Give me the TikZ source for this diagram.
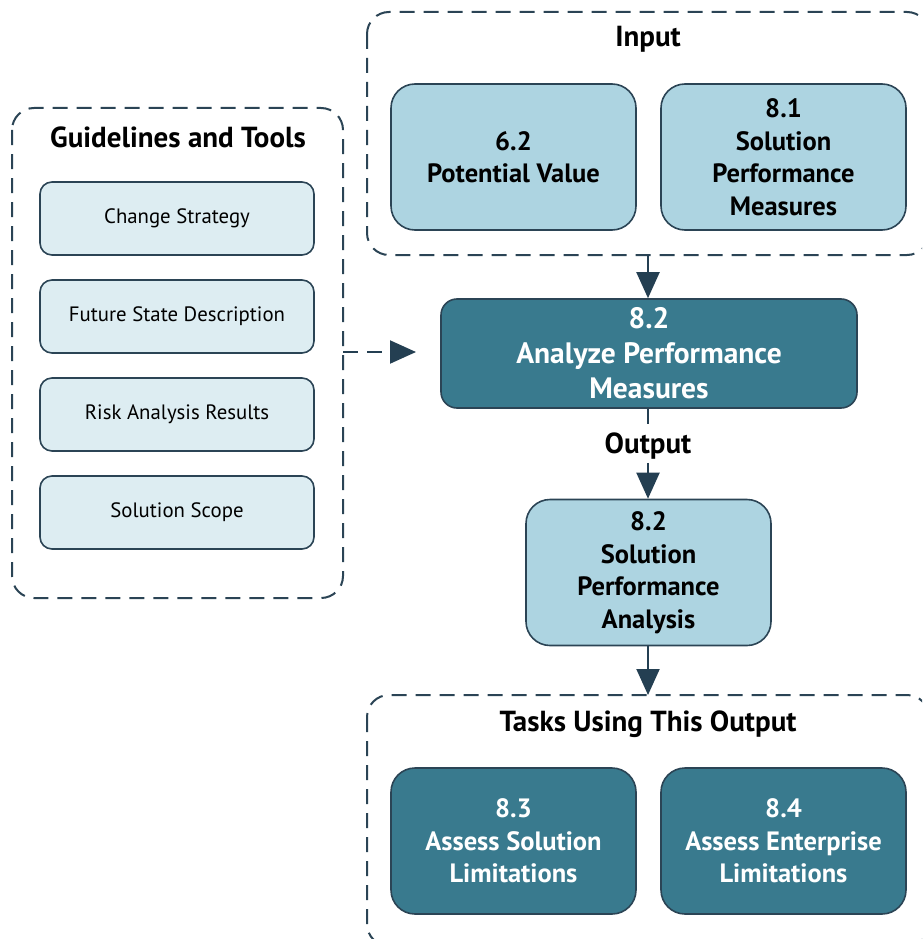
\documentclass[tikz,border=0pt]{standalone}
\usepackage{fontspec}
\setmainfont{PT Sans}
\usetikzlibrary{arrows.meta}
\definecolor{darkteal}{HTML}{397A8E}
\definecolor{lightblue}{HTML}{ADD4E1}
\definecolor{paleblue}{HTML}{DDEDF2}
\definecolor{edge}{HTML}{2B4455}
\definecolor{arrowc}{HTML}{243F52}
\tikzset{
  container/.style={draw=edge, line width=2pt, dash pattern=on 15pt off 9pt, rounded corners=22pt},
  bigbox/.style={draw=edge, line width=1.6pt, rounded corners=24pt, minimum width=245pt, minimum height=146pt, align=center, font=\fontsize{26.5}{32.5}\selectfont\bfseries},
  inbox/.style={bigbox, fill=lightblue, text=black},
  taskbox/.style={bigbox, fill=darkteal, text=white},
  toolbox/.style={draw=edge, line width=1.6pt, rounded corners=12pt, fill=paleblue, minimum width=274pt, minimum height=73pt, font=\fontsize{20.8}{24}\selectfont},
  title/.style={font=\fontsize{29}{32}\selectfont\bfseries},
  flow/.style={draw=arrowc, line width=2pt, -{Triangle[length=26pt,width=23pt]}},
}
\begin{document}
\begin{tikzpicture}[x=1pt,y=-1pt]
\useasboundingbox (0,0) rectangle (922,939);
\clip (0,0) rectangle (922,939);
% containers
\draw[container] (367,12) rectangle (929,255);
\draw[container] (12,108) rectangle (343,598);
\draw[container] (367,695) rectangle (929,946);
\node[title] (intitle) at (648,39) {Input};
\node[title] (gtitle) at (178,137) {Guidelines and Tools};
\node[title] (ttitle) at (648,724) {Tasks Using This Output};
% input boxes
\node[inbox] (pv) at (513.5,157) {6.2\\Potential Value};
\node[inbox] (spm) at (783.5,157) {8.1\\Solution\\Performance\\Measures};
% main task
\node[draw=edge, line width=1.6pt, rounded corners=16pt, fill=darkteal, text=white, minimum width=416pt, minimum height=109pt, align=center, font=\fontsize{29.5}{35}\selectfont\bfseries] (apm) at (649,353.5) {8.2\\Analyze Performance\\Measures};
% tools
\node[toolbox] (cs) at (177,218.5) {Change Strategy};
\node[toolbox] (fsd) at (177,316.5) {Future State Description};
\node[toolbox] (rar) at (177,414.5) {Risk Analysis Results};
\node[toolbox] (ss) at (177,512.5) {Solution Scope};
% output
\node[inbox] (spa) at (648.5,572.5) {8.2\\Solution\\Performance\\Analysis};
\node[title] (outl) at (648,446) {Output};
% tasks
\node[taskbox] (asl) at (513.5,841) {8.3\\Assess Solution\\Limitations};
\node[taskbox] (ael) at (783.5,841) {8.4\\Assess Enterprise\\Limitations};
% connectors
\coordinate (inbot) at (648,255);
\coordinate (gright) at (343,352);
\coordinate (gtip) at (416,352);
\coordinate (ttop) at (648,695);
\draw[flow] (inbot) -- (apm.north -| inbot);
\draw[flow, dash pattern=on 15pt off 9pt] (gright) -- (gtip);
\draw[draw=arrowc, line width=2pt, dash pattern=on 15pt off 9pt] (apm.south -| outl) -- (outl.north);
\draw[flow] (outl.south) -- (spa.north -| outl);
\draw[flow] (spa.south -| ttop) -- (ttop);
\end{tikzpicture}
\end{document}
